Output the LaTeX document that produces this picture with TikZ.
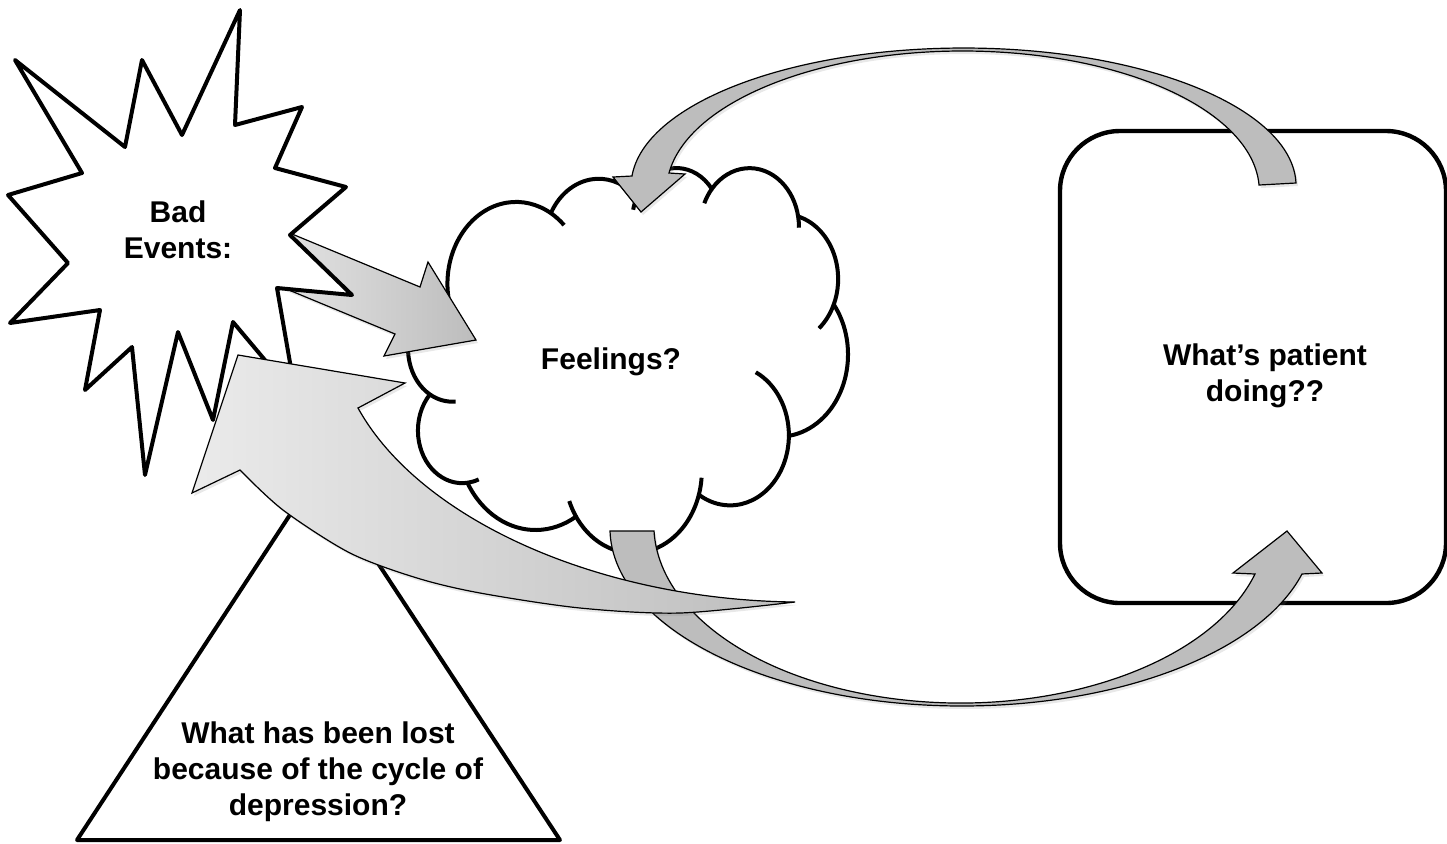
\documentclass[tikz,border=0pt]{standalone}
\usepackage{fontspec}
\setmainfont{Liberation Sans}
\usepackage{tikz}
\usetikzlibrary{shadows}

\begin{document}
\begin{tikzpicture}[
		x=0.5pt, y=-0.5pt,
		contour/.style={draw=black, line width=2pt, line join=round},
		fleche/.style={draw=black, line width=0.6pt, drop shadow={opacity=0.18, shadow xshift=1pt, shadow yshift=-1.5pt}},
		plate/.style={fleche, fill=black!26},
		degrade/.style={fleche, left color=black!8, right color=black!26},
		texte/.style={font=\fontsize{15}{18}\selectfont\bfseries, align=center, inner sep=0pt}
		]
	\useasboundingbox (0,0) rectangle (1447,843);

	% --- Nuage (forme Office, coordonnees /100) ---
	\begin{scope}[xshift=204.2pt, yshift=-83.4pt, x=0.5086pt, y=-0.4454pt]
		\draw[contour, fill=white] (39.00,143.70)
			arc[start angle=172.25, end angle=300.36, x radius=67.53, y radius=91.90]
			arc[start angle=-152.02, end angle=-45.46, x radius=53.33, y radius=72.67]
			arc[start angle=-153.49, end angle=-37.33, x radius=43.65, y radius=59.45]
			arc[start angle=-139.71, end angle=-10.21, x radius=48.57, y radius=65.95]
			arc[start angle=-74.77, end angle=23.21, x radius=53.33, y radius=72.73]
			arc[start angle=-37.53, end angle=81.86, x radius=67.75, y radius=92.20]
			arc[start angle=0.46, end angle=121.97, x radius=57.85, y radius=78.67]
			arc[start angle=16.84, end angle=146.23, x radius=67.52, y radius=92.15]
			arc[start angle=58.98, end angle=150.18, x radius=77.20, y radius=105.43]
			arc[start angle=83.31, end angle=223.10, x radius=43.60, y radius=59.18]
			arc[start angle=120.35, end angle=264.11, x radius=43.45, y radius=59.45]
			-- cycle;
		% petits arcs interieurs
		\foreach \cx/\cy/\rx/\ry/\a/\b in {
				43.07/204.20/43.45/59.45/85.54/120.35,
				52.95/295.94/43.60/59.18/68.24/83.31,
				220.93/341.41/67.52/92.15/146.23/158.47,
				220.93/341.41/67.52/92.15/4.74/16.84,
				316.18/301.37/57.85/78.67/-64.03/0.46,
				369.15/125.90/53.33/72.73/23.21/49.64,
				335.36/67.41/48.57/65.95/-10.21/0.82,
				335.36/67.41/48.57/65.95/-156.29/-139.71,
				263.60/60.82/43.65/59.45/-167.72/-153.49,
				105.91/131.30/67.53/91.90/-59.64/-45.75,
				105.91/131.30/67.53/91.90/163.19/172.25}
			\draw[contour] (\cx,\cy) ++({\a}:{\rx} and {\ry})
				arc[start angle=\a, end angle=\b, x radius=\rx, y radius=\ry];
	\end{scope}

	% --- Fleche droite (etoile -> nuage) ---
	\filldraw[degrade] (263,222) -- (420,287) -- (428,262) -- (476,340)
		-- (384,356) -- (395,334) -- (243,271) -- cycle;

	% --- Etoile ---
	\draw[contour, fill=white] (240,10) -- (235,125) -- (302,107) -- (275,168)
		-- (346,187) -- (290,235) -- (352,295) -- (277,288) -- (296,397)
		-- (233,322) -- (213,420) -- (178,332) -- (145,475) -- (132,347)
		-- (85,390) -- (100,310) -- (10,323) -- (68,263) -- (8,195)
		-- (82,173) -- (15,60) -- (125,147) -- (142,60) -- (182,135) -- cycle;

	% --- Triangle ---
	\draw[contour, fill=white] (318,472) -- (77,840) -- (560,840) -- cycle;

	% --- Cadre arrondi ---
	\draw[contour, line width=2.2pt, rounded corners=30pt] (1060,131) rectangle (1446,603);

	% --- Fleche du haut (cadre -> nuage) ---
	\filldraw[plate] (1296,183)
		arc[start angle=358.75, end angle=184.16, x radius=332.5, y radius=138]
		-- (613,177) -- (641,212) -- (685,174) -- (669,173)
		arc[start angle=187.39, end angle=357.54, x radius=296.4, y radius=140]
		-- cycle;

	% --- Fleche du bas (nuage -> cadre) ---
	\filldraw[plate] (610,531)
		arc[start angle=179.03, end angle=14.97, x radius=352, y radius=178]
		-- (1322,573) -- (1287,531) -- (1233,573) -- (1255,574)
		arc[start angle=15.98, end angle=178.07, x radius=306.5, y radius=178]
		-- cycle;

	% --- Grande fleche courbe (vers l'etoile) ---
	\filldraw[degrade] (238,355) -- (405,383) -- (358,408)
		.. controls (420,520) and (600,600) .. (795,602)
		-- plot[smooth] coordinates {(795,602) (680,613) (580,608) (480,593) (417,578) (350,553) (283,510) (240,470)}
		-- (192,493) -- cycle;

	% --- Textes ---
	\node[texte] (bad) at (178,230) {Bad\\Events:};
	\node[texte] (feel) at (611,362) {Feelings?};
	\node[texte] (doing) at (1265,376) {What’s patient\\doing??};
	\node[texte] (lost) at (318,772) {What has been lost\\because of the cycle of\\depression?};

\end{tikzpicture}
\end{document}
